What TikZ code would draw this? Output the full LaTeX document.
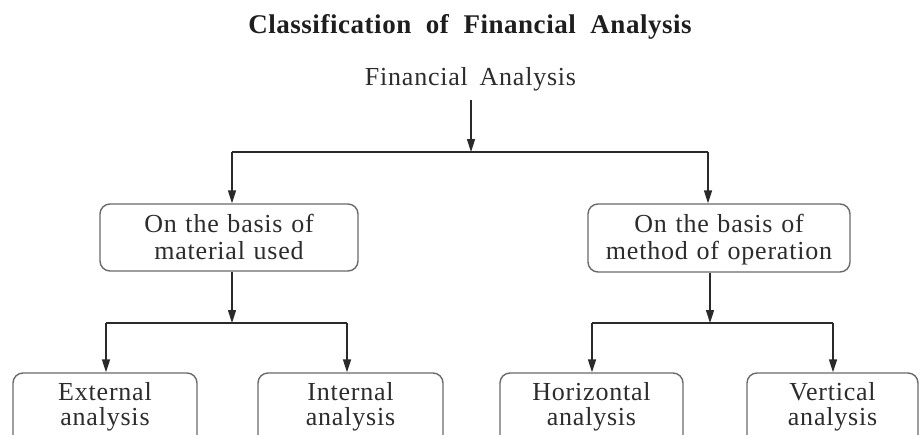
\documentclass[tikz,border=0pt]{standalone}
\usepackage{fontspec}
\setmainfont{Liberation Serif}
\newfontfamily\boxfont[LetterSpace=3,WordSpace=1.6]{Liberation Serif}
\newfontfamily\titlefont[LetterSpace=2,WordSpace=2]{Liberation Serif}
\usetikzlibrary{arrows.meta}
\definecolor{txt}{HTML}{2C2C2C}
\definecolor{ttl}{HTML}{1E1E1E}
\definecolor{lin}{HTML}{2A2A2A}
\definecolor{brd}{HTML}{6A6A6A}
\tikzset{
  conn/.style={draw=lin, line width=1.5pt},
  arr/.style={conn, -{Triangle[length=13pt,width=8pt]}},
  midbox/.style={draw=brd, line width=1.4pt, rounded corners=10pt, inner sep=0pt,
    text=txt, align=center, font=\boxfont\fontsize{26}{27}\selectfont,
    text height=16pt, text depth=27pt},
  lowbox/.style={draw=brd, line width=1.4pt, rounded corners=10pt, inner sep=0pt,
    text=txt, align=center, font=\boxfont\fontsize{26}{25}\selectfont,
    text height=16pt, text depth=37pt, minimum height=75pt},
}
\begin{document}
\begin{tikzpicture}[x=1pt,y=-1pt]
\useasboundingbox (0,0) rectangle (920,434);
\clip (0,0) rectangle (920,434);
\fill[white] (0,0) rectangle (920,434);

\node[anchor=base, text=ttl, inner sep=0pt, font=\titlefont\bfseries\fontsize{27}{30}\selectfont] (title) at (470,33) {Classification of Financial Analysis};
\node[anchor=base, text=txt, inner sep=0pt, font=\boxfont\fontsize{26}{27}\selectfont] (fa) at (470.5,85) {Financial Analysis};

\node[midbox, minimum width=258pt, minimum height=67pt, text width=250pt] (mat) at (229,237.5) {On the basis of\\material used};
\node[midbox, minimum width=262pt, minimum height=68pt, text width=254pt] (meth) at (719,238) {On the basis of\\method of operation};

\node[lowbox, minimum width=184pt, text width=176pt] (ext) at (105,410.5) {External\\analysis};
\node[lowbox, minimum width=185pt, text width=177pt] (int) at (350.5,410.5) {Internal\\analysis};
\node[lowbox, minimum width=183pt, text width=175pt] (hor) at (591.5,410.5) {Horizontal\\analysis};
\node[lowbox, minimum width=171pt, text width=163pt] (ver) at (832.5,410.5) {Vertical\\analysis};

\coordinate (a0) at (471,100);
\coordinate (j0) at (471,152);
\coordinate (jL) at (232,152);
\coordinate (jR) at (708,152);
\coordinate (kL) at (232,323);
\coordinate (kL1) at (106,323);
\coordinate (kL2) at (347,323);
\coordinate (kR) at (710,323);
\coordinate (kR1) at (592,323);
\coordinate (kR2) at (833,323);

\draw[arr] (a0) -- (j0);
\draw[conn] (jL) -- (jR);
\draw[arr] (jL) -- (jL |- mat.north);
\draw[arr] (jR) -- (jR |- meth.north);

\draw[arr] (mat.south -| kL) -- (kL);
\draw[conn] (kL1) -- (kL2);
\draw[arr] (kL1) -- (kL1 |- ext.north);
\draw[arr] (kL2) -- (kL2 |- int.north);

\draw[arr] (meth.south -| kR) -- (kR);
\draw[conn] (kR1) -- (kR2);
\draw[arr] (kR1) -- (kR1 |- hor.north);
\draw[arr] (kR2) -- (kR2 |- ver.north);
\end{tikzpicture}
\end{document}
